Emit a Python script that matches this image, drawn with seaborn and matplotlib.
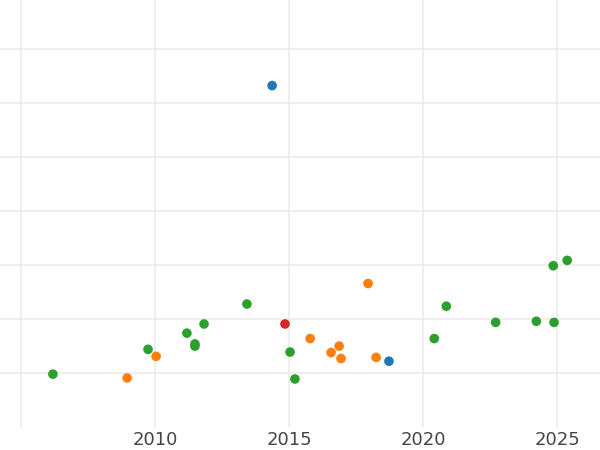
import matplotlib
matplotlib.use("Agg")
import matplotlib.pyplot as plt
import seaborn as sns
import pandas as pd

years = [2014.37, 2018.73,
         2008.96, 2010.04, 2015.79, 2016.57, 2016.87, 2016.94, 2017.95, 2018.25,
         2006.19, 2009.74, 2011.19, 2011.49, 2011.49, 2011.83, 2013.43, 2015.04,
         2015.22, 2020.42, 2020.87, 2022.71, 2024.23, 2024.86, 2024.89, 2025.38,
         2014.85]
values = [6.33, 1.22,
          0.91, 1.31, 1.64, 1.38, 1.50, 1.27, 2.66, 1.29,
          0.98, 1.44, 1.74, 1.54, 1.50, 1.91, 2.28, 1.39,
          0.89, 1.64, 2.24, 1.94, 1.96, 2.99, 1.94, 3.09,
          1.91]
groups = (["A"] * 2 + ["B"] * 8 + ["C"] * 16 + ["D"])
group_order = ["A", "B", "C", "D"]
palette = ["#1f77b4", "#ff7f0e", "#2ca02c", "#d62728"]
xtick_values = [2005, 2010, 2015, 2020, 2025]
xtick_labels = ["", "2010", "2015", "2020", "2025"]

df = pd.DataFrame({"year": years, "value": values, "group": groups})

sns.set_theme(style="white")
fig = plt.figure(figsize=(6, 4.5), dpi=100)
ax = fig.add_axes([0, 23 / 450, 1, 427 / 450])

sns.scatterplot(data=df, x="year", y="value", hue="group", hue_order=group_order,
                palette=palette, s=48, linewidth=0, legend=False, ax=ax, zorder=3)

ax.set_xlim(2005 - 21 / 26.8, 2005 + 579 / 26.8)
ax.set_ylim(0, 7 + 49.5 / 54)
ax.set_xticks(xtick_values)
ax.set_xticklabels(xtick_labels)
ax.set_yticks([1, 2, 3, 4, 5, 6, 7])
ax.set_yticklabels([])
ax.grid(True, color="#ebebeb", linewidth=1.2)
ax.set_axisbelow(True)
for sp in ax.spines.values():
    sp.set_visible(False)
ax.tick_params(axis="x", length=0, labelsize=13, labelcolor="#444444", pad=3)
ax.tick_params(axis="y", length=0)
ax.set_xlabel("")
ax.set_ylabel("")

fig.savefig("out.png", dpi=100)
